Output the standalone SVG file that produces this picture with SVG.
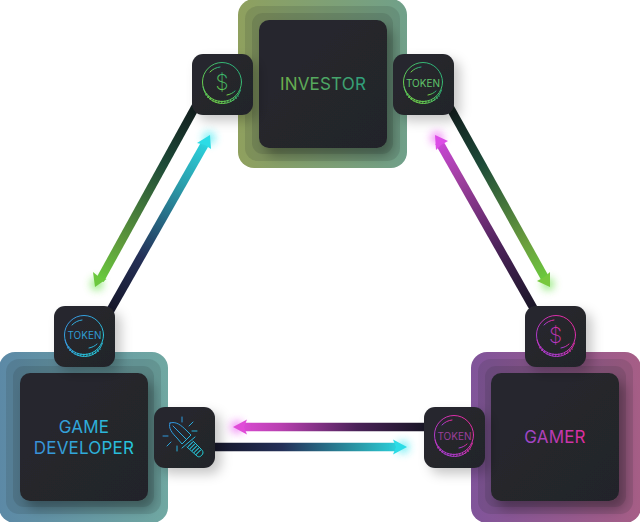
<svg xmlns="http://www.w3.org/2000/svg" width="640" height="522" viewBox="0 0 640 522">
<style>
.label{font-family:"Inter","Roboto","Liberation Sans",sans-serif;font-size:17px;letter-spacing:.2px;text-anchor:middle}
.tok{font-family:"Inter","Roboto","Liberation Sans",sans-serif;font-size:10px;text-anchor:middle}
.dollar{font-family:"Inter","Roboto","Liberation Sans",sans-serif;font-size:21px;font-weight:200;text-anchor:middle}
.inner{fill:url(#dark);filter:url(#bigShadow)}
.tile{fill:url(#dark);filter:url(#tileShadow)}
.layer{fill:#1c2a2a;fill-opacity:.13}
.ic{fill:none;stroke-width:1;stroke-linecap:round}
.wire{fill:none;stroke-width:8.500}
</style>
<defs>
<linearGradient id="dark" x1="0" y1="0" x2="1" y2="1"><stop offset="0" stop-color="#27282f"/><stop offset="1" stop-color="#232429"/></linearGradient>
<linearGradient id="fInv" x1="0" y1="0" x2="1" y2="0"><stop offset="0" stop-color="#8fa05e"/><stop offset="1" stop-color="#70a08a"/></linearGradient>
<linearGradient id="fDev" x1="0" y1="0" x2="1" y2="0"><stop offset="0" stop-color="#5c89a6"/><stop offset="1" stop-color="#70a8a2"/></linearGradient>
<linearGradient id="fGam" x1="0" y1="0" x2="1" y2="0"><stop offset="0" stop-color="#80549a"/><stop offset="1" stop-color="#a65e86"/></linearGradient>
<linearGradient id="tInv" gradientUnits="userSpaceOnUse" x1="281" y1="0" x2="365" y2="0"><stop offset="0" stop-color="#6fb04a"/><stop offset="1" stop-color="#2f9f7d"/></linearGradient>
<linearGradient id="tDev" gradientUnits="userSpaceOnUse" x1="33" y1="0" x2="135" y2="0"><stop offset="0" stop-color="#3a8fd8"/><stop offset="1" stop-color="#25c8dc"/></linearGradient>
<linearGradient id="tGam" gradientUnits="userSpaceOnUse" x1="525" y1="0" x2="586" y2="0"><stop offset="0" stop-color="#9a48c8"/><stop offset="1" stop-color="#e02c9c"/></linearGradient>
<linearGradient id="iGreen" x1="0" y1="1" x2="1" y2="0"><stop offset="0" stop-color="#7dd63f"/><stop offset="1" stop-color="#1fae84"/></linearGradient>
<linearGradient id="iBlue" x1="0" y1="0" x2="1" y2="1"><stop offset="0" stop-color="#3a8fe0"/><stop offset="1" stop-color="#22d0d8"/></linearGradient>
<linearGradient id="iPink" x1="0" y1="1" x2="1" y2="0"><stop offset="0" stop-color="#9a3fd8"/><stop offset="1" stop-color="#f0289a"/></linearGradient>
<linearGradient id="iSword" gradientUnits="userSpaceOnUse" x1="165" y1="425" x2="203" y2="455"><stop offset="0" stop-color="#2f8fe0"/><stop offset="1" stop-color="#22d0d8"/></linearGradient>
<linearGradient id="wA" gradientUnits="userSpaceOnUse" x1="193" y1="112" x2="96" y2="287"><stop offset="0" stop-color="#13201f"/><stop offset=".3" stop-color="#1d4a38"/><stop offset=".75" stop-color="#5f9a3c"/><stop offset="1" stop-color="#6bd23e"/></linearGradient>
<linearGradient id="wB" gradientUnits="userSpaceOnUse" x1="113" y1="310" x2="210" y2="135"><stop offset="0" stop-color="#16172a"/><stop offset=".3" stop-color="#243058"/><stop offset=".7" stop-color="#2a9aa8"/><stop offset="1" stop-color="#2cdce6"/></linearGradient>
<linearGradient id="wC" gradientUnits="userSpaceOnUse" x1="452" y1="112" x2="550" y2="287"><stop offset="0" stop-color="#13201f"/><stop offset=".3" stop-color="#1d4a38"/><stop offset=".75" stop-color="#6b9e3e"/><stop offset="1" stop-color="#6bd23e"/></linearGradient>
<linearGradient id="wD" gradientUnits="userSpaceOnUse" x1="532" y1="310" x2="435" y2="135"><stop offset="0" stop-color="#191626"/><stop offset=".35" stop-color="#4a2258"/><stop offset=".75" stop-color="#a040a0"/><stop offset="1" stop-color="#d048e0"/></linearGradient>
<linearGradient id="wE" gradientUnits="userSpaceOnUse" x1="424" y1="0" x2="233" y2="0"><stop offset="0" stop-color="#191626"/><stop offset=".35" stop-color="#4a2258"/><stop offset=".75" stop-color="#b840b0"/><stop offset="1" stop-color="#e04cd8"/></linearGradient>
<linearGradient id="wF" gradientUnits="userSpaceOnUse" x1="215" y1="0" x2="407" y2="0"><stop offset="0" stop-color="#16172a"/><stop offset=".35" stop-color="#243058"/><stop offset=".75" stop-color="#2a9aa8"/><stop offset="1" stop-color="#2cdce6"/></linearGradient>
<filter id="bigShadow" x="-20%" y="-20%" width="150%" height="150%"><feDropShadow dx="6" dy="8" stdDeviation="6" flood-color="#000" flood-opacity=".3"/></filter>
<filter id="tileShadow" x="-30%" y="-30%" width="170%" height="170%"><feDropShadow dx="6" dy="6" stdDeviation="6" flood-color="#000" flood-opacity=".22"/></filter>
<filter id="glow" x="-100%" y="-100%" width="300%" height="300%"><feGaussianBlur stdDeviation="4"/></filter>
<symbol id="coin" width="44" height="46" viewBox="0 0 44 46" overflow="visible">
<circle cx="22" cy="20" r="19.500" class="ic"/>
<path d="M3 25C5 35 13 41.500 22.500 41.500C31 41.500 38 36 40.500 28" class="ic"/>
<path d="M6 32C10 38 16 40 22.500 40C29 40 34 38 38 33.500" fill="none" stroke-width="2.500" stroke-dasharray="1 2"/>
<path d="M10 10C13 7 16 5.500 20 5" class="ic"/><path d="M27 33C30 32.500 33 31 35 29" class="ic"/>
</symbol>
</defs>
<g id="connectors">
<path class="wire" stroke="url(#wA)" d="M197 104L100 280"/>
<circle cx="97" cy="284" r="6" fill="#5fe03c" opacity=".7" filter="url(#glow)"/>
<path d="M95 287L93 272L99 277L106.500 279Z" fill="#6cc83e"/>
<path class="wire" stroke="url(#wB)" d="M106 318L206 142"/>
<circle cx="209" cy="138" r="6" fill="#2ce6f0" opacity=".7" filter="url(#glow)"/>
<path d="M210 135L211 149L205 145L197 143Z" fill="#2cdce6"/>
<path class="wire" stroke="url(#wC)" d="M448 104L546 280"/>
<circle cx="548" cy="284" r="6" fill="#5fe03c" opacity=".7" filter="url(#glow)"/>
<path d="M550 287L537 281L544.500 277L550 272Z" fill="#78c83e"/>
<path class="wire" stroke="url(#wD)" d="M539 318L439 142"/>
<circle cx="437" cy="138" r="6" fill="#e84cf0" opacity=".7" filter="url(#glow)"/>
<path d="M435 135L448 141L441 145L436 150Z" fill="#dc4ce6"/>
<path class="wire" stroke="url(#wE)" d="M440 427L243 427"/>
<circle cx="237" cy="427" r="6" fill="#e84cf0" opacity=".7" filter="url(#glow)"/>
<path d="M233 427L247 419.500L244 427L247 434.500Z" fill="#e04cd8"/>
<path class="wire" stroke="url(#wF)" d="M205 447L397 447"/>
<circle cx="403" cy="447" r="6" fill="#2ce6f0" opacity=".7" filter="url(#glow)"/>
<path d="M407 447L393 439.500L396 447L393 454.500Z" fill="#2cdce6"/>
</g>
<g id="investor">
<rect x="238" y="-1" width="169" height="169" rx="16" fill="url(#fInv)"/>
<rect x="245" y="6" width="155" height="155" rx="13" class="layer"/>
<rect x="252" y="13" width="141" height="141" rx="11" class="layer"/>
<rect x="259" y="20" width="128" height="128" rx="10" class="inner"/>
<text x="323" y="90" class="label" fill="url(#tInv)">INVESTOR</text>
</g>
<g id="game-developer">
<rect x="-1" y="352" width="169" height="171" rx="16" fill="url(#fDev)"/>
<rect x="6" y="359" width="155" height="155" rx="13" class="layer"/>
<rect x="13" y="366" width="141" height="141" rx="11" class="layer"/>
<rect x="20" y="373" width="128" height="128" rx="10" class="inner"/>
<text x="84" y="433" class="label" fill="url(#tDev)">GAME</text>
<text x="84" y="454" class="label" fill="url(#tDev)">DEVELOPER</text>
</g>
<g id="gamer">
<rect x="471" y="352" width="170" height="171" rx="16" fill="url(#fGam)"/>
<rect x="478" y="359" width="155" height="155" rx="13" class="layer"/>
<rect x="485" y="366" width="141" height="141" rx="11" class="layer"/>
<rect x="491" y="373" width="128" height="128" rx="10" class="inner"/>
<text x="555" y="443" class="label" fill="url(#tGam)">GAMER</text>
</g>
<g id="investor-dollar">
<rect x="192" y="54" width="61" height="61" rx="11" class="tile"/>
<use href="#coin" x="200" y="62" stroke="url(#iGreen)"/>
<text x="222" y="90" class="dollar" fill="url(#iGreen)">$</text>
</g>
<g id="investor-token">
<rect x="393" y="54" width="61" height="61" rx="11" class="tile"/>
<use href="#coin" x="401" y="62" stroke="url(#iGreen)"/>
<text x="423" y="87" class="tok" fill="#5fc46a">TOKEN</text>
</g>
<g id="dev-token">
<rect x="54" y="306" width="61" height="61" rx="11" class="tile"/>
<use href="#coin" x="62" y="315" stroke="url(#iBlue)"/>
<text x="84.500" y="339" class="tok" fill="#2f9bd0">TOKEN</text>
</g>
<g id="dev-sword">
<rect x="154" y="407" width="61" height="61" rx="11" class="tile"/>
<g class="ic" stroke="url(#iSword)">
<path d="M170 423C176 421 181 425 187 431L191 435L182 444L177 438C172 433 168 428 170 423Z"/>
<path d="M173 426L186 439"/>
<path d="M195 437L182 448"/>
<path d="M187 447L197 456C199 458 202 456 203 453C203 451 202 450 201 449L193 441"/>
<path d="M190 444L199.500 453.500" stroke-width="7" stroke-linecap="butt" stroke-dasharray="1 1.800"/>
<path d="M182 417V422M193 422L189 426M192 431H197M163 436H168M167 446L171 442M177 446V451"/>
</g>
</g>
<g id="gamer-dollar">
<rect x="525" y="306" width="61" height="61" rx="11" class="tile"/>
<use href="#coin" x="534" y="315" stroke="url(#iPink)"/>
<text x="555.500" y="343" class="dollar" fill="url(#iPink)">$</text>
</g>
<g id="gamer-token">
<rect x="424" y="407" width="61" height="61" rx="11" class="tile"/>
<use href="#coin" x="432" y="415" stroke="url(#iPink)"/>
<text x="454.500" y="440" class="tok" fill="#9a3f9a">TOKEN</text>
</g>
</svg>
